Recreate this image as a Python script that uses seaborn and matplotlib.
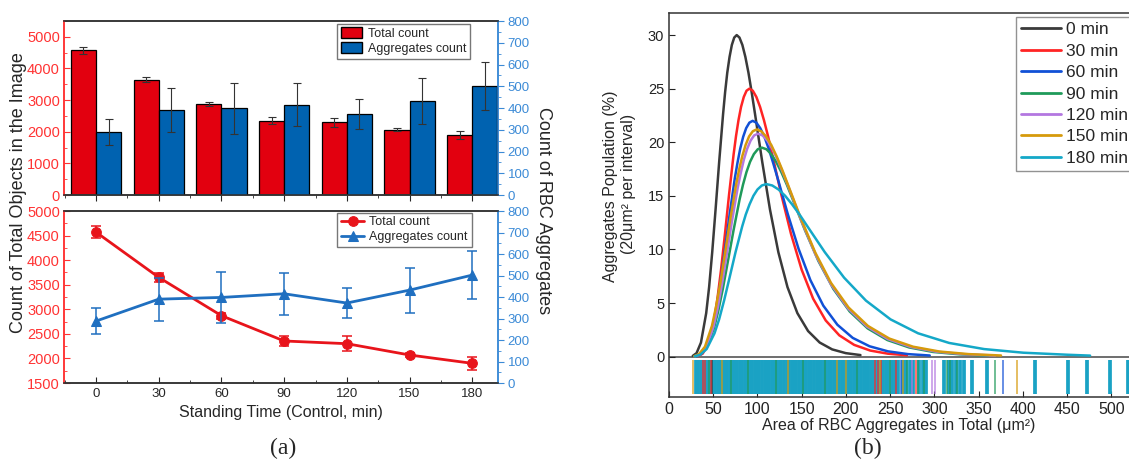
import numpy as np
import pandas as pd
import matplotlib
matplotlib.use("Agg")
import matplotlib.pyplot as plt
from matplotlib.lines import Line2D
from matplotlib.patches import Patch
from matplotlib.ticker import MultipleLocator
import seaborn as sns

# ---------------- panel (a) data ----------------
times = [0, 30, 60, 90, 120, 150, 180]
time_cats = ["0", "30", "60", "90", "120", "150", "180"]
total_count = [4570, 3650, 2870, 2355, 2300, 2070, 1900]
total_err = [115, 90, 60, 100, 150, 50, 130]
agg_count = [288, 390, 398, 415, 372, 432, 502]
agg_err = [60, 100, 118, 98, 70, 105, 110]
series_names = ["Total count", "Aggregates count"]

# ---------------- panel (b) data ----------------
curve_labels = ["0 min", "30 min", "60 min", "90 min", "120 min", "150 min", "180 min"]

area_0 = [26.8, 31.1, 36.1, 42.0, 45.3, 48.8, 52.6, 56.7, 61.1, 63.4, 65.8, 68.4, 71.0, 73.7, 76.5,
          79.6, 82.9, 86.3, 89.8, 93.4, 97.2, 105.3, 114.1, 123.6, 133.9, 145.1, 157.2, 170.3, 184.4,
          199.8, 216.4]
pop_0 = [0.07, 0.33, 1.32, 4.06, 6.49, 9.74, 13.73, 18.20, 22.64, 24.68, 26.48, 27.96, 29.08, 29.77, 30.0,
         29.77, 29.08, 27.96, 26.48, 24.68, 22.64, 18.20, 13.73, 9.74, 6.49, 4.06, 2.39, 1.32, 0.68,
         0.33, 0.15]
area_30 = [32.9, 38.0, 44.0, 50.8, 54.7, 58.8, 63.2, 67.9, 73.0, 75.7, 78.5, 81.4, 84.5, 87.6, 90.8,
           94.7, 98.7, 102.9, 107.3, 111.9, 116.6, 126.8, 137.9, 149.9, 162.9, 177.1, 192.5, 209.3, 227.5,
           247.3, 268.9]
pop_30 = [0.06, 0.28, 1.10, 3.38, 5.41, 8.12, 11.45, 15.16, 18.87, 20.57, 22.06, 23.30, 24.23, 24.81, 25.0,
          24.81, 24.23, 23.30, 22.06, 20.57, 18.87, 15.16, 11.45, 8.12, 5.41, 3.38, 1.99, 1.10, 0.57,
          0.28, 0.13]
area_60 = [30.8, 36.2, 42.5, 49.8, 54.0, 58.5, 63.3, 68.6, 74.3, 77.4, 80.5, 83.8, 87.2, 90.8, 94.5,
           98.7, 103.1, 107.8, 112.6, 117.6, 122.9, 134.1, 146.4, 159.8, 174.4, 190.3, 207.7, 226.7, 247.4,
           270.1, 294.7]
pop_60 = [0.05, 0.24, 0.97, 2.98, 4.76, 7.14, 10.07, 13.34, 16.61, 18.10, 19.42, 20.51, 21.32, 21.83, 22.0,
          21.83, 21.32, 20.51, 19.42, 18.10, 16.61, 13.34, 10.07, 7.14, 4.76, 2.98, 1.75, 0.97, 0.50,
          0.24, 0.11]
area_90 = [29.4, 35.2, 42.3, 50.7, 55.5, 60.8, 66.6, 73.0, 79.9, 83.6, 87.5, 91.6, 95.9, 100.3, 105.0,
           110.1, 115.5, 121.1, 127.0, 133.2, 139.6, 153.5, 168.8, 185.7, 204.2, 224.5, 246.9, 271.5, 298.6,
           328.3, 361.0]
pop_90 = [0.04, 0.22, 0.86, 2.64, 4.22, 6.33, 8.93, 11.83, 14.72, 16.04, 17.21, 18.18, 18.90, 19.35, 19.5,
          19.35, 18.90, 18.18, 17.21, 16.04, 14.72, 11.83, 8.93, 6.33, 4.22, 2.64, 1.55, 0.86, 0.44,
          0.22, 0.10]
area_120 = [29.9, 35.6, 42.3, 50.3, 54.9, 59.8, 65.2, 71.1, 77.5, 81.0, 84.5, 88.3, 92.2, 96.2, 100.5,
            105.7, 111.1, 116.8, 122.8, 129.0, 135.7, 149.9, 165.7, 183.1, 202.4, 223.7, 247.2, 273.2, 301.9,
            333.7, 368.8]
pop_120 = [0.05, 0.23, 0.91, 2.81, 4.50, 6.75, 9.52, 12.62, 15.70, 17.11, 18.36, 19.39, 20.16, 20.64, 20.8,
           20.64, 20.16, 19.39, 18.36, 17.11, 15.70, 12.62, 9.52, 6.75, 4.50, 2.81, 1.65, 0.91, 0.47,
           0.23, 0.11]
area_150 = [28.4, 33.9, 40.6, 48.5, 53.0, 58.0, 63.4, 69.3, 75.7, 79.2, 82.8, 86.6, 90.5, 94.7, 99.0,
            104.2, 109.7, 115.5, 121.5, 127.9, 134.6, 149.2, 165.3, 183.1, 202.9, 224.8, 249.0, 275.9, 305.7,
            338.7, 375.3]
pop_150 = [0.05, 0.24, 0.93, 2.87, 4.59, 6.88, 9.71, 12.86, 16.00, 17.44, 18.71, 19.76, 20.55, 21.03, 21.2,
           21.03, 20.55, 19.76, 18.71, 17.44, 16.00, 12.86, 9.71, 6.88, 4.59, 2.87, 1.69, 0.93, 0.48,
           0.24, 0.11]
area_180 = [29.1, 35.2, 42.5, 51.4, 56.6, 62.2, 68.4, 75.2, 82.7, 86.7, 91.0, 95.4, 100.0, 104.9, 110.0,
            116.7, 123.7, 131.2, 139.1, 147.6, 156.5, 176.0, 197.9, 222.6, 250.4, 281.6, 316.7, 356.2, 400.6,
            450.6, 476.0]
pop_180 = [0.04, 0.18, 0.71, 2.18, 3.48, 5.23, 7.37, 9.76, 12.15, 13.25, 14.21, 15.01, 15.60, 15.97, 16.1,
           15.97, 15.60, 15.01, 14.21, 13.25, 12.15, 9.76, 7.37, 5.23, 3.48, 2.18, 1.28, 0.71, 0.37,
           0.18, 0.10]

# rug (individual aggregate areas)
rug_180 = [31, 33, 36, 39, 41, 44, 47, 50, 52, 55, 58, 61, 63, 66, 69, 72, 75, 77, 80, 83, 86, 88, 91, 94,
           97, 100, 102, 105, 108, 111, 113, 116, 119, 122, 125, 127, 130, 133, 136, 139, 141, 144, 147, 150,
           153, 155, 158, 161, 164, 167, 169, 172, 175, 178, 181, 183, 186, 189, 192, 195, 197, 200, 203, 206,
           209, 211, 214, 217, 220, 223, 225, 228, 231, 234, 237, 239, 242, 245, 248, 252, 256, 259, 264, 268,
           272, 276, 283, 287, 290, 311, 316, 320, 324, 329, 334, 343, 359, 414, 451, 472, 498, 519]
rug_0 = [48]
rug_30 = [38, 41, 47, 233, 236, 240, 257, 279]
rug_60 = [262, 377]
rug_90 = [45, 70, 89, 121, 151, 176, 212, 250, 269, 282, 288, 314, 318, 326, 368]
rug_120 = [275, 297, 301]
rug_150 = [27.5, 60, 134, 190, 200, 239, 265, 393]

# ---------------- styles ----------------
RED_BAR, BLUE_BAR = "#e2000f", "#0062b0"
RED_LINE, BLUE_LINE = "#e8141b", "#1f6fc0"
RED_TXT, BLUE_TXT = "#ff3333", "#3b8ad6"
curve_palette = dict(zip(curve_labels, ["#3a3a3a", "#ff2424", "#1150d6", "#1f9a5a",
                                        "#b377e0", "#d69a0c", "#14a8c8"]))

sns.set_style("ticks")
plt.rcParams["font.family"] = ["Liberation Sans", "DejaVu Sans"]
plt.rcParams["axes.linewidth"] = 1.1
plt.rcParams["axes.edgecolor"] = "#333333"

fig = plt.figure(figsize=(11.29, 4.66), dpi=100)
ax_bar = fig.add_axes([0.0567, 0.5815, 0.3844, 0.3734])
ax_bar2 = ax_bar.twinx()
ax_line = fig.add_axes([0.0567, 0.1781, 0.3844, 0.3691])
ax_line2 = ax_line.twinx()
ax_b = fig.add_axes([0.5926, 0.1481, 0.4074, 0.8240])
ax_rug = fig.add_axes([0.5926, 0.1545, 0.4074, 0.073], sharex=ax_b)

# ---------------- (a) top: grouped bars ----------------
bar_df = pd.DataFrame({
    "time": time_cats * 2,
    "count": total_count + agg_count,
    "series": [series_names[0]] * 7 + [series_names[1]] * 7,
})
bar_pal = {series_names[0]: RED_BAR, series_names[1]: BLUE_BAR}
for ax, name in [(ax_bar, series_names[0]), (ax_bar2, series_names[1])]:
    sns.barplot(data=bar_df[bar_df["series"] == name], x="time", y="count", hue="series",
                hue_order=series_names, order=time_cats, palette=bar_pal, dodge=True,
                errorbar=None, width=0.8, saturation=1, edgecolor="black", linewidth=0.9,
                legend=False, ax=ax)
    ax.set_xlabel("")
    ax.set_ylabel("")

pos = np.arange(len(times))
ax_bar.errorbar(pos - 0.2, total_count, yerr=total_err, fmt="none", ecolor="#333333",
                elinewidth=0.8, capsize=3, capthick=0.8)
ax_bar2.errorbar(pos + 0.2, agg_count, yerr=agg_err, fmt="none", ecolor="#333333",
                 elinewidth=0.8, capsize=3, capthick=0.8)

ax_bar.set_xlim(-0.51, 6.41)
ax_bar.set_ylim(0, 5500)
ax_bar2.set_ylim(0, 800)
ax_bar.set_yticks(range(0, 5001, 1000))
ax_bar.yaxis.set_minor_locator(MultipleLocator(500))
ax_bar2.set_yticks(range(0, 801, 100))
ax_bar2.yaxis.set_minor_locator(MultipleLocator(50))
ax_bar.set_xticks(pos)
ax_bar.xaxis.set_minor_locator(MultipleLocator(0.5))
ax_bar.tick_params(axis="x", which="both", direction="out", labelbottom=False, length=4)
ax_bar.tick_params(axis="x", which="minor", length=2.5)

ax_bar2.legend(handles=[Patch(facecolor=RED_BAR, edgecolor="black", label=series_names[0]),
                        Patch(facecolor=BLUE_BAR, edgecolor="black", label=series_names[1])],
               loc="upper left", bbox_to_anchor=(0.629, 0.985), fontsize=9, frameon=True,
               fancybox=False, edgecolor="#555555", handlelength=1.7, handleheight=0.9,
               handletextpad=0.5, borderpad=0.3, labelspacing=0.2, borderaxespad=0)

# ---------------- (a) bottom: lines ----------------
sns.lineplot(x=times, y=total_count, color=RED_LINE, marker="o", markersize=7, lw=2,
             markeredgecolor=RED_LINE, label=series_names[0], ax=ax_line)
ax_line.errorbar(times, total_count, yerr=total_err, fmt="none", ecolor=RED_LINE,
                 elinewidth=1.1, capsize=3.5, capthick=1.1)
sns.lineplot(x=times, y=agg_count, color=BLUE_LINE, marker="^", markersize=7.5, lw=2,
             markeredgecolor=BLUE_LINE, label=series_names[1], ax=ax_line2)
ax_line2.errorbar(times, agg_count, yerr=agg_err, fmt="none", ecolor=BLUE_LINE,
                  elinewidth=1.1, capsize=3.5, capthick=1.1)
for ax in (ax_line, ax_line2):
    if ax.get_legend() is not None:
        ax.get_legend().remove()
h1, l1 = ax_line.get_legend_handles_labels()
h2, l2 = ax_line2.get_legend_handles_labels()
ax_line2.legend(h1 + h2, l1 + l2, loc="upper left", bbox_to_anchor=(0.629, 0.99), fontsize=9,
                fancybox=False, edgecolor="#555555", handlelength=1.9, handletextpad=0.4,
                borderpad=0.3, labelspacing=0.2, borderaxespad=0)

ax_line.set_xlim(-15.3, 192.3)
ax_line.set_ylim(1500, 5000)
ax_line2.set_ylim(0, 800)
ax_line.set_xticks(times)
ax_line.xaxis.set_minor_locator(MultipleLocator(15))
ax_line.set_yticks(range(1500, 5001, 500))
ax_line.yaxis.set_minor_locator(MultipleLocator(250))
ax_line2.set_yticks(range(0, 801, 100))
ax_line2.yaxis.set_minor_locator(MultipleLocator(50))
ax_line.tick_params(axis="x", which="both", direction="in", labelsize=9.5, length=4)
ax_line.tick_params(axis="x", which="minor", length=2.5)
ax_line.set_xlabel("Standing Time (Control, min)", fontsize=11.5, labelpad=4)

for left, right in [(ax_bar, ax_bar2), (ax_line, ax_line2)]:
    left.tick_params(axis="y", which="both", direction="in", colors=RED_TXT, labelsize=10.5, pad=3)
    left.tick_params(axis="y", which="major", length=4)
    left.tick_params(axis="y", which="minor", length=2.5)
    right.tick_params(axis="y", which="both", direction="out", colors=BLUE_TXT, labelsize=9.5, pad=3)
    right.tick_params(axis="y", which="major", length=4)
    right.tick_params(axis="y", which="minor", length=2.5)
    right.spines["left"].set_color(RED_TXT)
    right.spines["right"].set_color(BLUE_TXT)
    left.spines["left"].set_color(RED_TXT)
    left.spines["right"].set_color(BLUE_TXT)
    right.set_ylabel("")

fig.text(0.016, 0.586, "Count of Total Objects in the Image", rotation=90, ha="center",
         va="center", fontsize=13)
fig.text(0.481, 0.549, "Count of RBC Aggregates", rotation=270, ha="center", va="center",
         fontsize=13)

# ---------------- (b) curves + rug ----------------
curve_df = pd.concat([
    pd.DataFrame({"area": a, "pop": p, "time": lab})
    for a, p, lab in zip([area_0, area_30, area_60, area_90, area_120, area_150, area_180],
                         [pop_0, pop_30, pop_60, pop_90, pop_120, pop_150, pop_180],
                         curve_labels)
], ignore_index=True)
sns.lineplot(data=curve_df, x="area", y="pop", hue="time", hue_order=curve_labels,
             palette=curve_palette, estimator=None, sort=False, lw=1.8, legend=False, ax=ax_b)
ax_b.axhline(0, color="#555555", lw=1.2, zorder=0.5)

rug_main = pd.DataFrame({"area": rug_180, "time": "180 min"})
rug_rest = pd.concat([
    pd.DataFrame({"area": vals, "time": lab})
    for vals, lab in [(rug_0, "0 min"), (rug_30, "30 min"), (rug_60, "60 min"),
                      (rug_90, "90 min"), (rug_120, "120 min"), (rug_150, "150 min")]
], ignore_index=True)
sns.rugplot(data=rug_main, x="area", color="#1aa2c4", height=1.0,
            expand_margins=False, linewidth=2.7, ax=ax_rug)
sns.rugplot(data=rug_rest, x="area", hue="time", palette=curve_palette, height=1.0,
            expand_margins=False, linewidth=1.2, alpha=0.75, legend=False, ax=ax_rug)
ax_rug.set_ylim(0, 1)
ax_rug.set_axis_off()

ax_b.set_xlim(0, 520)
ax_b.set_ylim(-3.76, 32.06)
ax_b.set_xticks(range(0, 501, 50))
ax_b.set_yticks(range(0, 31, 5))
ax_b.tick_params(axis="x", direction="in", labelsize=11.5, length=4, colors="#222222")
ax_b.tick_params(axis="y", direction="in", labelsize=10.5, length=4, colors="#222222")
ax_b.spines["right"].set_visible(False)
ax_b.set_xlabel("Area of RBC Aggregates in Total (μm²)", fontsize=11.5, labelpad=1)
ax_b.set_ylabel("")
fig.text(611 / 1129, 1 - 186 / 466, "Aggregates Population (%)", rotation=90, ha="center",
         va="center", fontsize=11.5)
fig.text(629 / 1129, 1 - 184 / 466, "(20μm² per interval)", rotation=90, ha="center",
         va="center", fontsize=11.5)

legend_handles = [Line2D([0], [0], color=curve_palette[lab], lw=2) for lab in curve_labels]
ax_b.legend(legend_handles, curve_labels, loc="upper left", bbox_to_anchor=(0.8999, 0.9635),
            bbox_transform=fig.transFigure, fontsize=12.5, fancybox=False, edgecolor="#777777",
            handlelength=2.3, handletextpad=0.3, borderpad=0.3, labelspacing=0.36, borderaxespad=0)

fig.text(0.251, 0.038, "(a)", family="Liberation Serif", fontsize=17, ha="center", va="center")
fig.text(0.769, 0.038, "(b)", family="Liberation Serif", fontsize=17, ha="center", va="center")

fig.savefig("out.png", dpi=100)
